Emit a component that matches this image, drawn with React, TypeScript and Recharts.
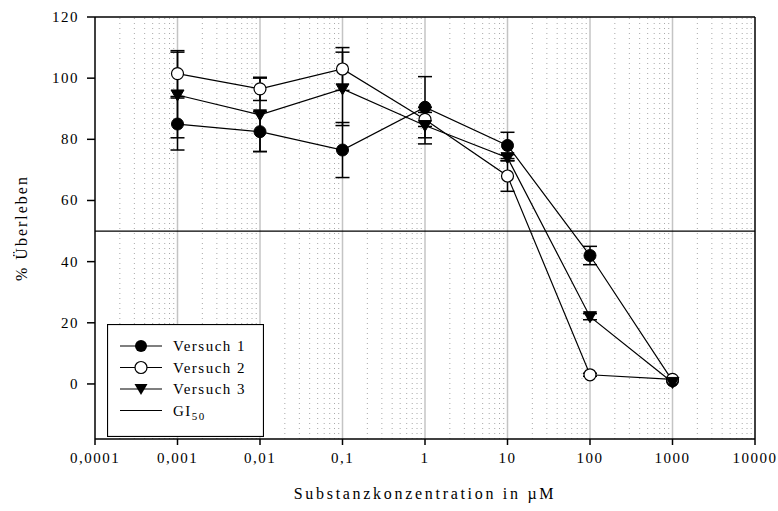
import React from 'react';
import { ComposedChart, Line, XAxis, YAxis, ReferenceLine, ErrorBar, Legend } from 'recharts';

const concentrations = [0.001, 0.01, 0.1, 1, 10, 100, 1000];
const versuch1 = [85, 82.5, 76.5, 90.5, 78, 42, 1];
const versuch1Err = [8.5, 6.5, 9, 10, 4.3, 3, 0];
const versuch2 = [101.5, 96.5, 103, 86.5, 68, 3, 1.5];
const versuch2Err = [7.5, 3.8, 7, 2.3, 5, 0.5, 0];
const versuch3 = [94.5, 88, 96.5, 84.5, 74, 22, 0.5];
const versuch3Err = [14, 12, 12, 6, 1, 1, 0];
const gi50 = 50;

const xTicks = [0.0001, 0.001, 0.01, 0.1, 1, 10, 100, 1000, 10000];
const xTickLabels = ['0,0001', '0,001', '0,01', '0,1', '1', '10', '100', '1000', '10000'];
const yTicks = [0, 20, 40, 60, 80, 100, 120];
const yDomain = [-18, 120];
const seriesNames = ['Versuch 1', 'Versuch 2', 'Versuch 3'];

const data = concentrations.map((c, i) => ({
  c,
  v1: versuch1[i],
  e1: versuch1Err[i],
  v2: versuch2[i],
  e2: versuch2Err[i],
  v3: versuch3[i],
  e3: versuch3Err[i],
}));

const minorGrid: number[] = [];
xTicks.slice(0, -1).forEach((d) => {
  for (let m = 2; m <= 9; m++) minorGrid.push(d * m);
});
const majorGrid = xTicks.slice(1, -1);

const FONT = "'Liberation Serif', 'Times New Roman', serif";

const xLabelFor = (v: number) =>
  xTickLabels[xTicks.findIndex((t) => Math.abs(Math.log10(t) - Math.log10(v)) < 1e-6)] ?? String(v);

const XTick = (p: any) => (
  <text
    x={p.x}
    y={p.y}
    dy={11}
    textAnchor="middle"
    fontSize={15}
    fontFamily={FONT}
    letterSpacing={1.5}
    fill="#000"
  >
    {xLabelFor(p.payload.value)}
  </text>
);

const YTick = (p: any) => (
  <text
    x={p.x}
    y={p.y}
    dy={5}
    textAnchor="end"
    fontSize={15}
    fontFamily={FONT}
    letterSpacing={1.5}
    fill="#000"
  >
    {String(p.payload.value)}
  </text>
);

const filledDot = (p: any) => (
  <circle key={`f-${p.index}`} cx={p.cx} cy={p.cy} r={6} fill="#000" stroke="#000" strokeWidth={1} />
);
const openDot = (p: any) => (
  <circle key={`o-${p.index}`} cx={p.cx} cy={p.cy} r={6} fill="#fff" stroke="#000" strokeWidth={1.2} />
);
const triDot = (p: any) => (
  <path
    key={`t-${p.index}`}
    d={`M${p.cx - 6.5},${p.cy - 5} L${p.cx + 6.5},${p.cy - 5} L${p.cx},${p.cy + 6} Z`}
    fill="#000"
    stroke="#000"
    strokeWidth={1}
  />
);

const LegendBox = () => {
  const rows = [0, 1, 2, 3];
  return (
    <svg width={157} height={113} style={{ display: 'block' }}>
      <rect x={0.5} y={0.5} width={156} height={112} fill="#fff" stroke="#000" strokeWidth={1.2} />
      {rows.map((i) => {
        const cy = 22 + i * 21.5;
        return (
          <g key={i}>
            <line x1={13} y1={cy} x2={55} y2={cy} stroke="#000" strokeWidth={1.2} />
            {i === 0 && <circle cx={34} cy={cy} r={6} fill="#000" />}
            {i === 1 && <circle cx={34} cy={cy} r={6} fill="#fff" stroke="#000" strokeWidth={1.2} />}
            {i === 2 && <path d={`M${27.5},${cy - 5} L${40.5},${cy - 5} L34,${cy + 6} Z`} fill="#000" />}
            <text x={66} y={cy + 5} fontSize={15} fontFamily={FONT} letterSpacing={1.5} fill="#000">
              {i < 3 ? seriesNames[i] : 'GI'}
              {i === 3 && (
                <tspan fontSize={11} dy={4}>
                  50
                </tspan>
              )}
            </text>
          </g>
        );
      })}
    </svg>
  );
};

export default function App() {
  return (
    <div style={{ position: 'absolute', left: 0, top: 0, fontFamily: FONT }}>
      <ComposedChart width={778} height={511} data={data} margin={{ top: 17, right: 23, bottom: 42, left: 0 }}>
        {minorGrid.map((v) => (
          <ReferenceLine key={`m-${v}`} x={v} stroke="#a8a8a8" strokeWidth={1} strokeDasharray="1 4" />
        ))}
        {majorGrid.map((v) => (
          <ReferenceLine key={`M-${v}`} x={v} stroke="#c4c4c4" strokeWidth={1.5} />
        ))}
        <ReferenceLine y={gi50} stroke="#000" strokeWidth={1.2} />
        <ReferenceLine y={yDomain[1]} stroke="#000" strokeWidth={1.5} />
        <ReferenceLine x={xTicks[xTicks.length - 1]} stroke="#000" strokeWidth={1.5} />
        <XAxis
          dataKey="c"
          type="number"
          scale="log"
          domain={[xTicks[0], xTicks[xTicks.length - 1]]}
          ticks={xTicks}
          allowDataOverflow
          height={30}
          tickSize={6}
          tickMargin={7}
          axisLine={{ stroke: '#000', strokeWidth: 1.5 }}
          tickLine={{ stroke: '#000', strokeWidth: 1.5 }}
          tick={XTick}
          interval={0}
          label={(props: any) => {
            const vb = props.viewBox || { x: 95, y: 439, width: 660, height: 30 };
            return (
              <text
                x={vb.x + vb.width / 2}
                y={vb.y + vb.height + 30}
                textAnchor="middle"
                fontSize={16}
                fontFamily={FONT}
                letterSpacing={2.7}
                fill="#000"
              >
                Substanzkonzentration in µM
              </text>
            );
          }}
        />
        <YAxis
          type="number"
          domain={yDomain}
          ticks={yTicks}
          allowDataOverflow
          width={95}
          tickSize={8}
          tickMargin={8}
          axisLine={{ stroke: '#000', strokeWidth: 1.5 }}
          tickLine={{ stroke: '#000', strokeWidth: 1.5 }}
          tick={YTick}
          interval={0}
          label={(props: any) => {
            const vb = props.viewBox || { x: 0, y: 17, width: 95, height: 422 };
            const cy = vb.y + vb.height / 2;
            return (
              <text
                x={22}
                y={cy}
                transform={`rotate(-90 22 ${cy})`}
                textAnchor="middle"
                dy={5}
                fontSize={16}
                fontFamily={FONT}
                letterSpacing={2}
                fill="#000"
              >
                % Überleben
              </text>
            );
          }}
        />
        <Line dataKey="v1" name={seriesNames[0]} stroke="#000" strokeWidth={1.2} dot={filledDot} activeDot={false} isAnimationActive={false}>
          <ErrorBar dataKey="e1" direction="y" width={7} stroke="#000" strokeWidth={1.5} />
        </Line>
        <Line dataKey="v2" name={seriesNames[1]} stroke="#000" strokeWidth={1.2} dot={openDot} activeDot={false} isAnimationActive={false}>
          <ErrorBar dataKey="e2" direction="y" width={7} stroke="#000" strokeWidth={1.5} />
        </Line>
        <Line dataKey="v3" name={seriesNames[2]} stroke="#000" strokeWidth={1.2} dot={triDot} activeDot={false} isAnimationActive={false}>
          <ErrorBar dataKey="e3" direction="y" width={7} stroke="#000" strokeWidth={1.5} />
        </Line>
        <Legend
          layout="vertical"
          align="center"
          verticalAlign="middle"
          wrapperStyle={{ position: 'absolute', left: 107, top: 324, width: 157, height: 113 }}
          content={() => <LegendBox />}
        />
      </ComposedChart>
    </div>
  );
}
